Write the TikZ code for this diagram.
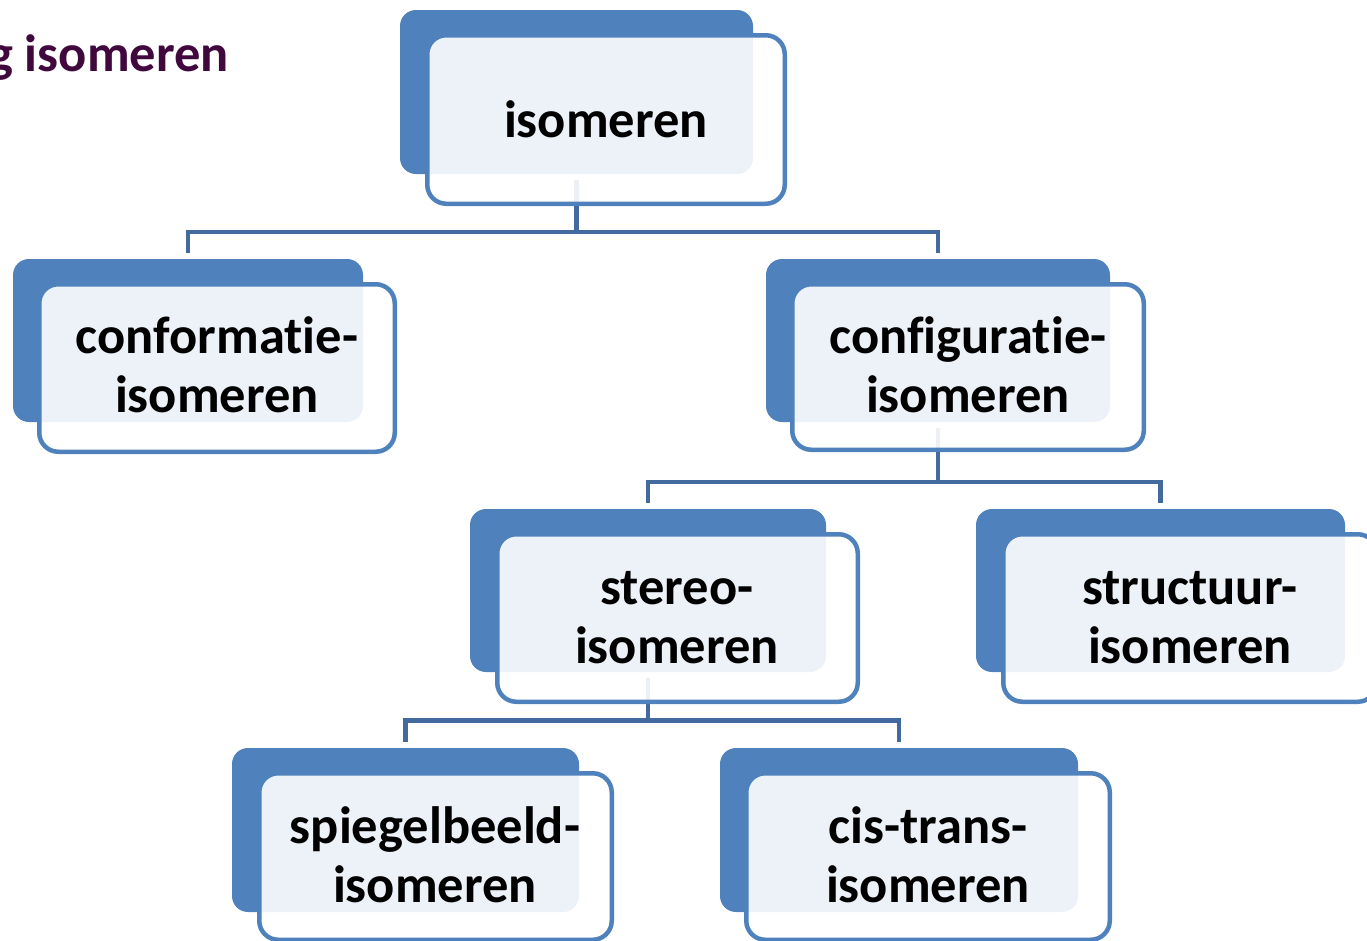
\documentclass[tikz,border=0pt]{standalone}
\usepackage{fontspec}
\setmainfont{Carlito}[Ligatures={NoCommon,NoRare,NoContextual}]
\definecolor{accent}{RGB}{79,129,189}
\definecolor{connc}{RGB}{66,106,158}
\definecolor{titlec}{RGB}{64,8,60}
\tikzset{
  backbox/.style={rectangle, rounded corners=16pt, fill=accent, draw=none, inner sep=0pt, outer sep=0pt, anchor=north west},
  frontbox/.style={rectangle, rounded corners=19pt, fill=white, fill opacity=0.9, draw=accent, draw opacity=1, line width=4.5pt, inner sep=0pt, anchor=north west},
  lbl/.style={font=\fontsize{52.5}{59}\selectfont\bfseries, text=black, align=center, inner sep=0pt, anchor=base},
  conn/.style={draw=connc, line width=4.5pt},
  ttl/.style={font=\fontsize{52.5}{59}\selectfont\bfseries, text=titlec, inner sep=0pt, anchor=base west}
}
\begin{document}
\begin{tikzpicture}[x=1pt,y=-1pt]
\useasboundingbox (0,0) rectangle (1367,940);
% title (cut off at the left edge, as in the original)
\node[ttl] (title) at (-12,71) {g isomeren};
% junction coordinates
\coordinate (j1) at (576.5,232);
\coordinate (j3) at (938,482);
\coordinate (j4) at (648,720.5);
% back boxes
\path node[backbox, minimum width=353, minimum height=164] (B1) at (400,10) {}
      node[backbox, minimum width=350, minimum height=163] (B2) at (13,259) {}
      node[backbox, minimum width=344, minimum height=163] (B3) at (766,259) {}
      node[backbox, minimum width=356, minimum height=163] (B4) at (470,509) {}
      node[backbox, minimum width=369, minimum height=163] (B5) at (976,509) {}
      node[backbox, minimum width=347, minimum height=164] (B6) at (232,748) {}
      node[backbox, minimum width=358, minimum height=164] (B7) at (720,748) {};
% connectors (drawn below the front boxes)
\draw[conn] ([yshift=-6pt]B1.south) -- (j1);
\draw[conn] ([yshift=6pt]B2.north) |- (j1) -| ([yshift=6pt]B3.north);
\draw[conn] ([yshift=-6pt]B3.south) -- (j3);
\draw[conn] ([yshift=6pt]B4.north) |- (j3) -| ([yshift=6pt]B5.north);
\draw[conn] ([yshift=-6pt]B4.south) -- (j4);
\draw[conn] ([yshift=6pt]B6.north) |- (j4) -| ([yshift=6pt]B7.north);
% front boxes
\node[frontbox, minimum width=357.5, minimum height=168.5] (W1) at (425,33) {};
\node[frontbox, minimum width=355.5, minimum height=167.5] (W2) at (37,282) {};
\node[frontbox, minimum width=351.5, minimum height=165.5] (W3) at (790,282) {};
\node[frontbox, minimum width=360.5, minimum height=167.5] (W4) at (495,532) {};
\node[frontbox, minimum width=373.5, minimum height=167.5] (W5) at (1001,532) {};
\node[frontbox, minimum width=352.5, minimum height=166.5] (W6) at (257,771) {};
\node[frontbox, minimum width=363.5, minimum height=166.5] (W7) at (744,771) {};
% labels (base anchor = baseline of the last line)
\node[lbl] (T1) at (606,137) {isomeren};
\node[lbl] (T2) at (217,412) {conformatie-\\isomeren};
\node[lbl] (T3) at (968,412) {configuratie-\\isomeren};
\node[lbl] (T4) at (677,663) {stereo-\\isomeren};
\node[lbl] (T5) at (1190,663) {structuur-\\isomeren};
\node[lbl] (T6) at (435,902) {spiegelbeeld-\\isomeren};
\node[lbl] (T7) at (928,902) {cis-trans-\\isomeren};
\end{tikzpicture}
\end{document}
